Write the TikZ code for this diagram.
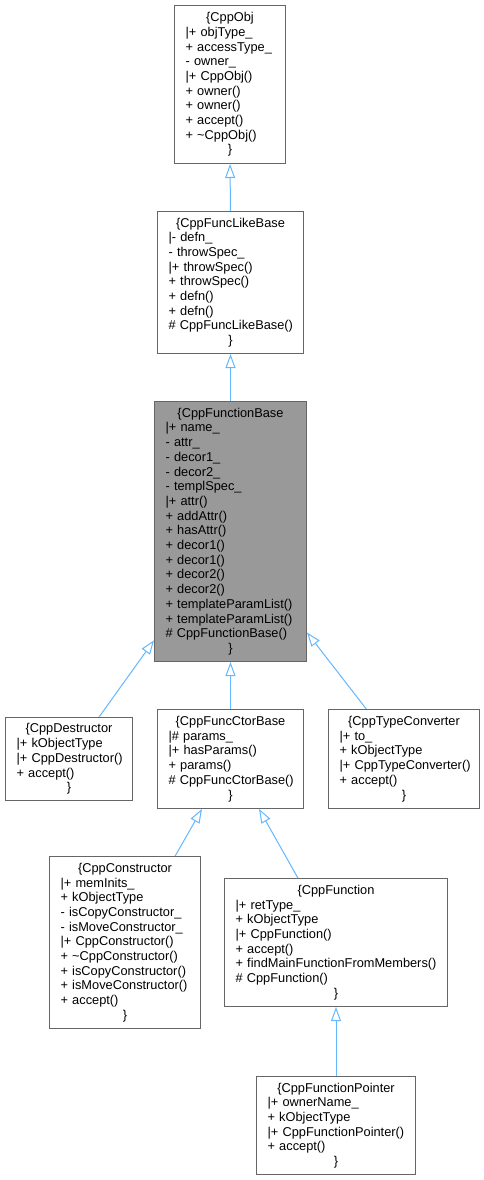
\documentclass[tikz,border=0pt]{standalone}
\usepackage{fontspec}
\setmainfont{Liberation Sans}
\usetikzlibrary{arrows.meta,calc}
\definecolor{edgeblue}{HTML}{63B8FF}
\definecolor{boxgray}{HTML}{666666}
\definecolor{fillgray}{HTML}{999999}
\newcommand{\ttl}[1]{\makebox[\linewidth][c]{#1}}
\begin{document}
\begin{tikzpicture}[x=1pt,y=-1pt,
  cls/.style={draw=boxgray, line width=1pt, fill=white, rectangle, anchor=north west,
    inner xsep=11pt, inner ysep=0pt, align=left, font=\fontsize{12.8}{14.7}\selectfont},
  inh/.style={draw=edgeblue, line width=1pt,
    -{Triangle[open,length=14pt,width=10pt,fill=white]}}]
\useasboundingbox[fill=white] (0,0) rectangle (484,1180);

\node[cls, text width=89pt, minimum height=158pt] (obj) at (174,5)
 {\ttl{\{CppObj}\\\mbox{|+ objType\_}\\\mbox{+ accessType\_}\\\mbox{- owner\_}\\\mbox{|+ CppObj()}\\\mbox{+ owner()}\\\mbox{+ owner()}\\\mbox{+ accept()}\\\mbox{+ \textasciitilde CppObj()}\\\ttl{\}}};

\node[cls, text width=124pt, minimum height=142pt] (flb) at (157,211)
 {\ttl{\{CppFuncLikeBase}\\\mbox{|- defn\_}\\\mbox{- throwSpec\_}\\\mbox{|+ throwSpec()}\\\mbox{+ throwSpec()}\\\mbox{+ defn()}\\\mbox{+ defn()}\\\mbox{\# CppFuncLikeBase()}\\\ttl{\}}};

\node[cls, fill=fillgray, text width=130pt, minimum height=260pt] (fb) at (154,401)
 {\ttl{\{CppFunctionBase}\\\mbox{|+ name\_}\\\mbox{- attr\_}\\\mbox{- decor1\_}\\\mbox{- decor2\_}\\\mbox{- templSpec\_}\\\mbox{|+ attr()}\\\mbox{+ addAttr()}\\\mbox{+ hasAttr()}\\\mbox{+ decor1()}\\\mbox{+ decor1()}\\\mbox{+ decor2()}\\\mbox{+ decor2()}\\\mbox{+ templateParamList()}\\\mbox{+ templateParamList()}\\\mbox{\# CppFunctionBase()}\\\ttl{\}}};

\node[cls, text width=105pt, minimum height=83pt] (dtor) at (5,717)
 {\ttl{\{CppDestructor}\\\mbox{|+ kObjectType}\\\mbox{|+ CppDestructor()}\\\mbox{+ accept()}\\\ttl{\}}};

\node[cls, text width=124pt, minimum height=99pt] (fcb) at (157,709)
 {\ttl{\{CppFuncCtorBase}\\\mbox{|\# params\_}\\\mbox{|+ hasParams()}\\\mbox{+ params()}\\\mbox{\# CppFuncCtorBase()}\\\ttl{\}}};

\node[cls, text width=129pt, minimum height=99pt] (tc) at (328,709)
 {\ttl{\{CppTypeConverter}\\\mbox{|+ to\_}\\\mbox{+ kObjectType}\\\mbox{|+ CppTypeConverter()}\\\mbox{+ accept()}\\\ttl{\}}};

\node[cls, text width=129pt, minimum height=172pt] (ctor) at (49,856)
 {\ttl{\{CppConstructor}\\\mbox{|+ memInits\_}\\\mbox{+ kObjectType}\\\mbox{- isCopyConstructor\_}\\\mbox{- isMoveConstructor\_}\\\mbox{|+ CppConstructor()}\\\mbox{+ \textasciitilde CppConstructor()}\\\mbox{+ isCopyConstructor()}\\\mbox{+ isMoveConstructor()}\\\mbox{+ accept()}\\\ttl{\}}};

\node[cls, text width=201pt, minimum height=128pt] (func) at (224,878)
 {\ttl{\{CppFunction}\\\mbox{|+ retType\_}\\\mbox{+ kObjectType}\\\mbox{|+ CppFunction()}\\\mbox{+ accept()}\\\mbox{+ findMainFunctionFromMembers()}\\\mbox{\# CppFunction()}\\\ttl{\}}};

\node[cls, text width=137pt, minimum height=98pt] (fp) at (256,1076)
 {\ttl{\{CppFunctionPointer}\\\mbox{|+ ownerName\_}\\\mbox{+ kObjectType}\\\mbox{|+ CppFunctionPointer()}\\\mbox{+ accept()}\\\ttl{\}}};

\draw[inh] (flb.north) -- (obj.south);
\draw[inh] (fb.north) -- (flb.south);
\draw[inh] ($(dtor.north west)!0.735!(dtor.north east)$) -- ($(fb.north west)!0.917!(fb.south west)$);
\draw[inh] (fcb.north) -- (fb.south);
\draw[inh] ($(tc.north west)!0.252!(tc.north east)$) -- ($(fb.north east)!0.887!(fb.south east)$);
\draw[inh] ($(ctor.north west)!0.83!(ctor.north east)$) -- ($(fcb.south west)!0.306!(fcb.south east)$);
\draw[inh] ($(func.north west)!0.33!(func.north east)$) -- ($(fcb.south west)!0.694!(fcb.south east)$);
\draw[inh] (fp.north) -- (func.south);
\end{tikzpicture}
\end{document}
